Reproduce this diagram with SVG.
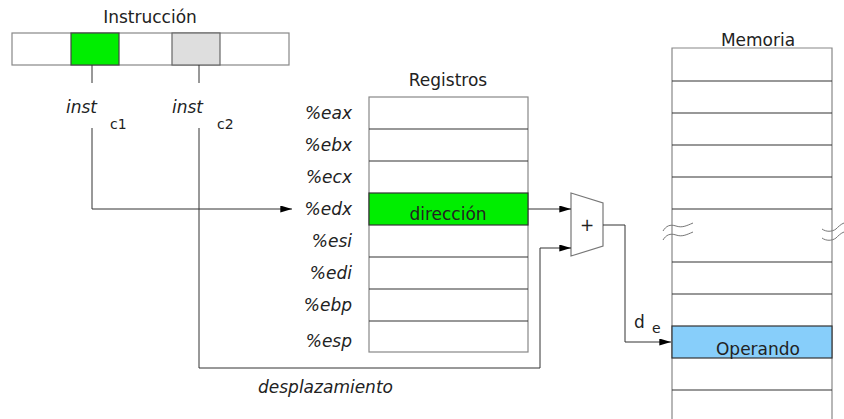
<svg xmlns="http://www.w3.org/2000/svg" width="844" height="419" viewBox="0 0 844 419">
<defs>
<marker id="arr" viewBox="0 0 10 6" refX="10" refY="3" markerWidth="14" markerHeight="7" markerUnits="userSpaceOnUse" orient="auto"><path d="M0,0 L10,3 L0,6 Z" fill="#000"/></marker>
<style>
text{font-family:"DejaVu Sans",sans-serif;font-size:17px;fill:#222}
.it{font-style:italic}
.sub{font-size:14px}
.cell{fill:#fff;stroke:#888;stroke-width:1.2}
.sep{stroke:#333;stroke-width:1.2}
.con{fill:none;stroke:#333;stroke-width:1}
.sq{fill:none;stroke:#777;stroke-width:1}
</style>
</defs>
<rect width="844" height="419" fill="#fff"/>
<g id="instruccion">
<text x="150" y="23" text-anchor="middle">Instrucción</text>
<rect class="cell" x="12" y="33" width="277" height="32"/>
<rect x="71" y="33" width="48" height="32" fill="#00ee00" stroke="#444" stroke-width="1.2"/>
<rect x="172" y="33" width="48" height="32" fill="#dedede" stroke="#666" stroke-width="1.2"/>
</g>
<g id="labels">
<text class="it" x="66" y="113">inst</text>
<text class="sub" x="110" y="129">c1</text>
<text class="it" x="172" y="113">inst</text>
<text class="sub" x="217" y="129">c2</text>
<text class="it" x="258" y="393">desplazamiento</text>
<text x="634" y="328">d</text>
<text class="sub" x="652" y="333">e</text>
</g>
<g id="registros">
<text x="448" y="86" text-anchor="middle">Registros</text>
<rect class="cell" x="369" y="97" width="159" height="255"/>
<rect x="369" y="193" width="159" height="32" fill="#00ee00" stroke="#333" stroke-width="1.2"/>
<path class="sep" d="M369,129H528M369,161H528M369,257H528M369,289H528M369,321H528"/>
<text x="448" y="220" text-anchor="middle">dirección</text>
<g class="it" text-anchor="end">
<text x="352" y="119">%eax</text>
<text x="352" y="151">%ebx</text>
<text x="352" y="183">%ecx</text>
<text x="352" y="215">%edx</text>
<text x="352" y="247">%esi</text>
<text x="352" y="279">%edi</text>
<text x="352" y="311">%ebp</text>
<text x="352" y="347">%esp</text>
</g>
</g>
<g id="sumador">
<path d="M571,193 L603,203 L603,246 L571,256 Z" fill="#fff" stroke="#777" stroke-width="1.2"/>
<text x="587" y="231" text-anchor="middle">+</text>
</g>
<g id="memoria">
<text x="758" y="46" text-anchor="middle">Memoria</text>
<path d="M672,419V48H832V419" fill="none" stroke="#888" stroke-width="1.2"/>
<rect x="672" y="326" width="160" height="32" fill="#87cefa" stroke="#333" stroke-width="1.2"/>
<path class="sep" d="M672,81H832M672,113H832M672,145H832M672,177H832M672,209H832M672,262H832M672,294H832M672,390H832"/>
<text x="758" y="355" text-anchor="middle">Operando</text>
<path class="sq" d="M663,231 C666,226 670,224 676,226 C682,228 686,226 693,223 M663,240 C666,235 670,233 676,235 C682,237 686,235 693,232"/>
<path class="sq" d="M822,229 C826,232 832,232 836,229 C838,227 841,224 844,223 M822,238 C826,241 832,241 836,238 C838,236 841,233 844,232"/>
</g>
<g id="conectores">
<path class="con" d="M92,65V83"/>
<path class="con" d="M199,65V83"/>
<path class="con" d="M92,128V209H292" marker-end="url(#arr)"/>
<path class="con" d="M199,128V368H540V248H571" marker-end="url(#arr)"/>
<path class="con" d="M528,209H571" marker-end="url(#arr)"/>
<path class="con" d="M603,225H625V342H671" marker-end="url(#arr)"/>
</g>
</svg>
